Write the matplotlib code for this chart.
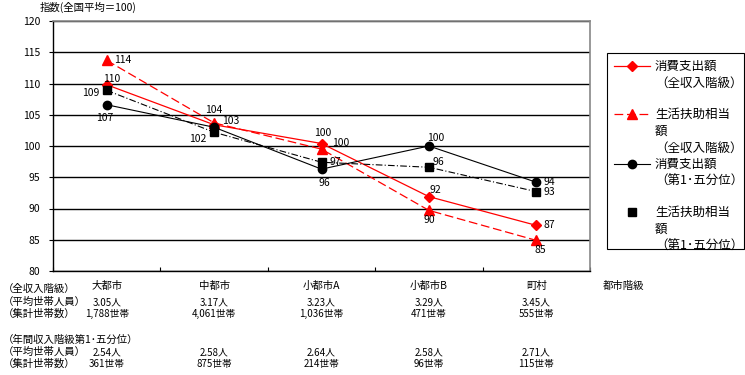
import matplotlib
matplotlib.use("Agg")
import matplotlib.pyplot as plt
from matplotlib.lines import Line2D
from matplotlib.patches import Rectangle
from matplotlib.transforms import blended_transform_factory

plt.rcParams['font.family'] = ['Noto Sans CJK JP', 'DejaVu Sans']

# --- data ---
cities = ["大都市", "中都市", "小都市A", "小都市B", "町村"]
spend_all = [109.8, 103.4, 100.4, 91.9, 87.3]
assist_all = [113.7, 103.7, 99.5, 89.7, 84.9]
spend_q1 = [106.6, 103.0, 96.3, 100.0, 94.2]
assist_q1 = [108.9, 102.2, 97.4, 96.6, 92.7]

labels_spend_all = ["110", "103", "100", "92", "87"]
labels_assist_all = ["114", "104", "100", "90", "85"]
labels_spend_q1 = ["107", "", "96", "100", "94"]
labels_assist_q1 = ["109", "102", "97", "96", "93"]

persons_all = ["3.05人", "3.17人", "3.23人", "3.29人", "3.45人"]
households_all = ["1,788世帯", "4,061世帯", "1,036世帯", "471世帯", "555世帯"]
persons_q1 = ["2.54人", "2.58人", "2.64人", "2.58人", "2.71人"]
households_q1 = ["361世帯", "875世帯", "214世帯", "96世帯", "115世帯"]

legend_texts = [["消費支出額", "（全収入階級）"],
                ["生活扶助相当", "額", "（全収入階級）"],
                ["消費支出額", "（第1･五分位）"],
                ["生活扶助相当", "額", "（第1･五分位）"]]

# label offsets in points (dx, dy)
off_spend_all = [(3.5, 4.5), (12, 3), (14, 0), (5, 5), (9.5, 0)]
off_assist_all = [(11.5, 0), (0, 9), (1, 11.5), (0, -7), (3, -7)]
off_spend_q1 = [(-1.5, -9.5), (0, 0), (2, -10), (5, 6), (9.5, 0)]
off_assist_q1 = [(-11.5, -2), (-11.5, -4.5), (10, 0), (6.5, 3.5), (9.5, 0)]

W, H = 745, 375
fig = plt.figure(figsize=(W / 100, H / 100), dpi=100)
ax = fig.add_axes([53 / W, 1 - 271 / H, 537 / W, 250 / H])

x = list(range(len(cities)))
fs = 7.5

styles = [
    dict(color="red", lw=0.9, ls="-", marker="D", ms=5.5),
    dict(color="red", lw=0.9, ls=(0, (7, 3)), marker="^", ms=7.5),
    dict(color="black", lw=0.8, ls="-", marker="o", ms=6),
    dict(color="black", lw=0.8, ls=(0, (6, 2, 1, 2)), marker="s", ms=6),
]

series = [spend_all, assist_all, spend_q1, assist_q1]
for vals, st in zip(series, styles):
    ax.plot(x, vals, **st)

for vals, labs, offs in [(spend_all, labels_spend_all, off_spend_all),
                         (assist_all, labels_assist_all, off_assist_all),
                         (spend_q1, labels_spend_q1, off_spend_q1),
                         (assist_q1, labels_assist_q1, off_assist_q1)]:
    for xi, v, lab, off in zip(x, vals, labs, offs):
        if lab:
            ax.annotate(lab, (xi, v), xytext=off, textcoords="offset points",
                        ha="center", va="center", fontsize=fs)

ax.set_xlim(-0.5, len(cities) - 0.5)
ax.set_ylim(80, 120)
ax.set_yticks(range(80, 121, 5))
ax.yaxis.grid(True, color="black", lw=1)
ax.set_axisbelow(True)
ax.tick_params(axis="y", labelsize=fs, length=3, width=0.8, pad=6)
ax.set_xticks(x)
ax.set_xticklabels(cities, fontsize=fs)
ax.set_xticks([i - 0.5 for i in range(len(cities) + 1)], minor=True)
ax.tick_params(axis="x", which="major", length=0, pad=7)
ax.tick_params(axis="x", which="minor", direction="in", length=3, width=0.8)
for s in ["top", "right"]:
    ax.spines[s].set_color("#888888")
    ax.spines[s].set_linewidth(1.2)
for s in ["left", "bottom"]:
    ax.spines[s].set_color("black")
    ax.spines[s].set_linewidth(1)

def fx(px):
    return px / W

def fy(py):
    return 1 - py / H

fig.text(fx(40), fy(7), "指数(全国平均＝100)", fontsize=fs, va="center")

# --- legend, drawn by hand so the handles sit on the first text line ---
fig.patches.append(Rectangle((fx(607), fy(249)), fx(744) - fx(607), fy(53) - fy(249),
                             transform=fig.transFigure, fill=False,
                             edgecolor="black", lw=0.8))
entry_top = [66, 114, 164, 212]
for i, (st, lines) in enumerate(zip(styles, legend_texts)):
    y0 = entry_top[i]
    if i < 3:
        fig.lines.append(Line2D([fx(614), fx(650)], [fy(y0), fy(y0)], transform=fig.transFigure,
                                color=st["color"], lw=st["lw"], ls=st["ls"]))
    fig.lines.append(Line2D([fx(632)], [fy(y0)], transform=fig.transFigure, ls="none",
                            marker=st["marker"], ms=st["ms"], color=st["color"]))
    for j, t in enumerate(lines):
        fig.text(fx(655), fy(y0 + 17 * j), t, fontsize=9, va="center")

# --- table below the chart ---
tr = blended_transform_factory(ax.transData, fig.transFigure)
fst = 7

fig.text(fx(3), fy(289), "（全収入階級）", fontsize=fs, va="center")
fig.text(fx(3), fy(302), "（平均世帯人員）", fontsize=fs, va="center")
fig.text(fx(3), fy(314), "（集計世帯数）", fontsize=fs, va="center")
fig.text(fx(3), fy(340), "（年間収入階級第1･五分位）", fontsize=fs, va="center")
fig.text(fx(3), fy(352), "（平均世帯人員）", fontsize=fs, va="center")
fig.text(fx(3), fy(364), "（集計世帯数）", fontsize=fs, va="center")
fig.text(fx(623), fy(286), "都市階級", fontsize=fs, va="center", ha="center")

for xi in x:
    ax.text(xi, fy(302), persons_all[xi], transform=tr, fontsize=fst, ha="center", va="center")
    ax.text(xi, fy(314), households_all[xi], transform=tr, fontsize=fst, ha="center", va="center")
    ax.text(xi, fy(352), persons_q1[xi], transform=tr, fontsize=fst, ha="center", va="center")
    ax.text(xi, fy(364), households_q1[xi], transform=tr, fontsize=fst, ha="center", va="center")

fig.savefig("out.png", dpi=100)
